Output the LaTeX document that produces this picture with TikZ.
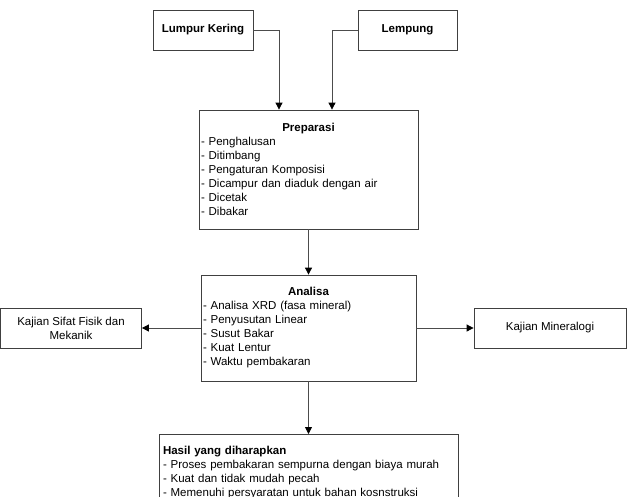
\documentclass[tikz,border=0pt]{standalone}
\usepackage{fontspec}
\setmainfont{Liberation Sans}
\usetikzlibrary{arrows.meta}
\begin{document}
\begin{tikzpicture}[x=1pt,y=-1pt,
  box/.style={draw=black!75, line width=0.8pt, fill=white, font=\fontsize{11.5}{14}\selectfont, inner sep=0pt},
  listbox/.style={box, align=left, inner xsep=2pt, inner ysep=0pt},
  arr/.style={draw=black!70, line width=0.8pt, -{Triangle[width=7pt,length=7pt,color=black]}}]
\useasboundingbox (0,0) rectangle (627,496);
\clip (0,0) rectangle (627,496);
\node[box, minimum width=100, minimum height=40] (lk) at (203,30) {\textbf{Lumpur Kering}};
\node[box, minimum width=99, minimum height=40] (lp) at (407.5,30) {\textbf{Lempung}};
\node[listbox, text width=215, minimum height=119] (prep) at (308.5,169.5)
 {\makebox[\linewidth]{\textbf{Preparasi}}\\
 - Penghalusan\\
 - Ditimbang\\
 - Pengaturan Komposisi\\
 - Dicampur dan diaduk dengan air\\
 - Dicetak\\
 - Dibakar};
\node[listbox, text width=211, minimum height=106] (an) at (308.5,328)
 {\makebox[\linewidth]{\textbf{Analisa}}\\
 - Analisa XRD (fasa mineral)\\
 - Penyusutan Linear\\
 - Susut Bakar\\
 - Kuat Lentur\\
 - Waktu pembakaran};
\node[box, align=center, minimum width=141, minimum height=40] (ks) at (71,328)
 {Kajian Sifat Fisik dan\\Mekanik};
\node[box, minimum width=152, minimum height=40] (km) at (550,328) {Kajian Mineralogi};
\node[box, align=left, text width=291, inner xsep=4pt, inner ysep=12pt, anchor=north] (has) at (308.5,434)
 {\textbf{Hasil yang diharapkan}\\
 - Proses pembakaran sempurna dengan biaya murah\\
 - Kuat dan tidak mudah pecah\\
 - Memenuhi persyaratan untuk bahan kosnstruksi};
\draw[arr] (lk.east) -| ([xshift=-29.5]prep.north);
\draw[arr] (lp.west) -| ([xshift=23.5]prep.north);
\draw[arr] (prep.south) -- (an.north);
\draw[arr] (an.west) -- (ks.east);
\draw[arr] (an.east) -- (km.west);
\draw[arr] (an.south) -- (has.north);
\end{tikzpicture}
\end{document}
